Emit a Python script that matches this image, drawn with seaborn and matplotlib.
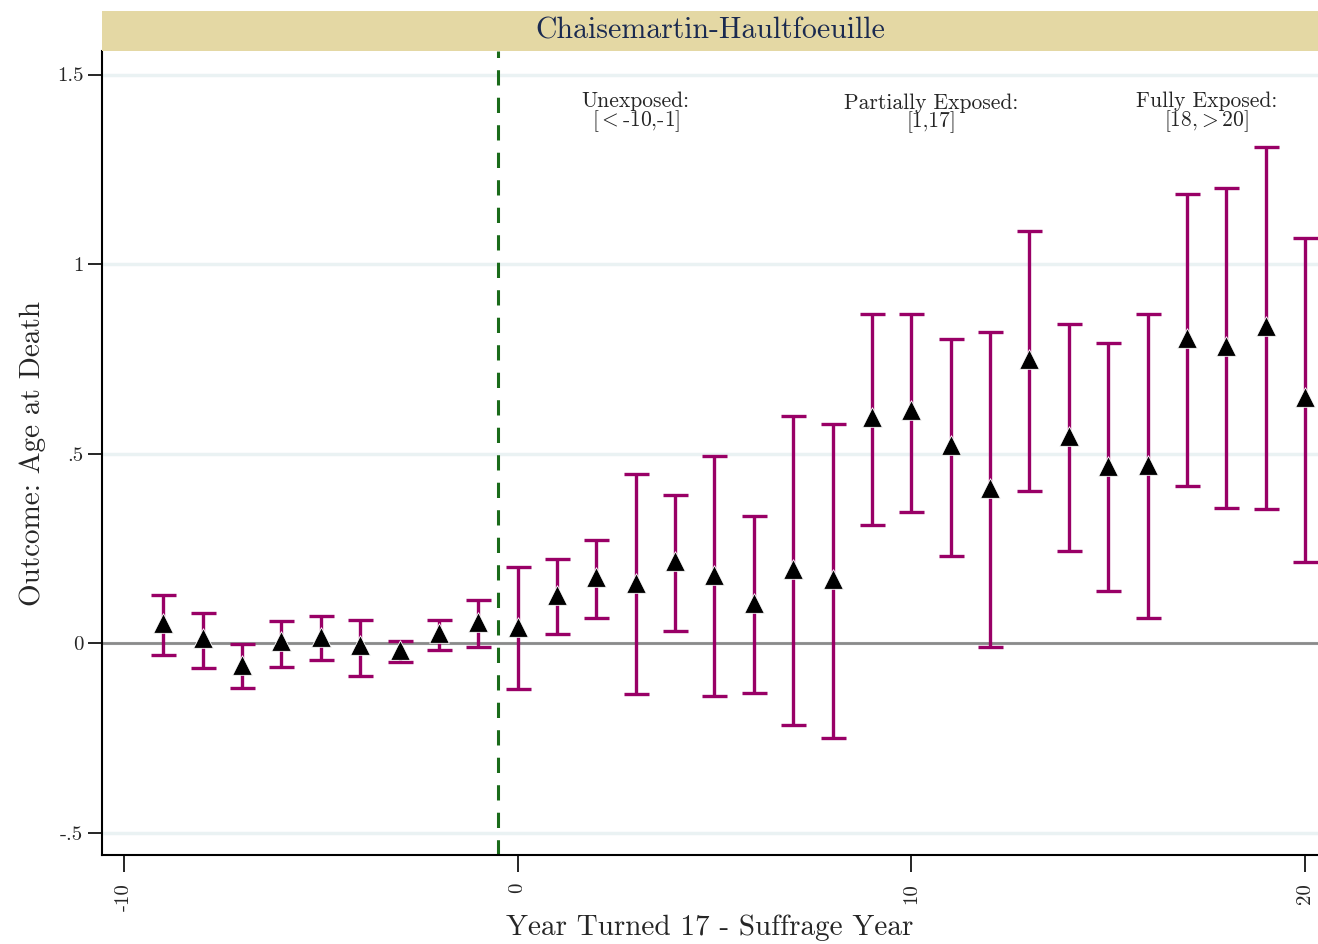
import matplotlib
matplotlib.use("Agg")
import matplotlib.pyplot as plt
import seaborn as sns
import pandas as pd
from matplotlib.patches import Rectangle

years = [-9, -8, -7, -6, -5, -4, -3, -2, -1, 0, 1, 2, 3, 4, 5, 6, 7, 8, 9, 10,
         11, 12, 13, 14, 15, 16, 17, 18, 19, 20]
estimate = [0.053, 0.013, -0.058, 0.005, 0.016, -0.005, -0.018, 0.026, 0.055, 0.042,
            0.127, 0.174, 0.158, 0.216, 0.179, 0.106, 0.195, 0.169, 0.596, 0.615,
            0.522, 0.409, 0.749, 0.546, 0.467, 0.470, 0.805, 0.784, 0.836, 0.649]
upper = [0.127, 0.079, -0.003, 0.058, 0.071, 0.061, 0.005, 0.061, 0.113, 0.200,
         0.222, 0.272, 0.446, 0.390, 0.493, 0.335, 0.599, 0.578, 0.868, 0.868,
         0.802, 0.821, 1.087, 0.842, 0.792, 0.868, 1.185, 1.200, 1.309, 1.069]
lower = [-0.032, -0.066, -0.119, -0.063, -0.045, -0.087, -0.050, -0.018, -0.011, -0.121,
         0.024, 0.066, -0.135, 0.032, -0.140, -0.132, -0.216, -0.251, 0.311, 0.346,
         0.230, -0.011, 0.401, 0.243, 0.137, 0.066, 0.414, 0.356, 0.354, 0.214]
xticks = [-10, 0, 10, 20]
yticks = [-0.5, 0, 0.5, 1, 1.5]
ytick_labels = ["-.5", "0", ".5", "1", "1.5"]
groups = [("Unexposed:\n[${<}$-10,-1]", 3.0), ("Partially Exposed:\n[1,17]", 10.5),
          ("Fully Exposed:\n[18,${>}$20]", 17.5)]

df = pd.DataFrame({"year": years, "est": estimate, "lo": lower, "hi": upper})

sns.set_style("white")
plt.rcParams["font.family"] = ["cmr10", "DejaVu Serif"]
plt.rcParams["mathtext.fontset"] = "cm"
plt.rcParams["axes.unicode_minus"] = False
plt.rcParams["axes.formatter.use_mathtext"] = True

fig = plt.figure(figsize=(13.18, 9.44), dpi=100)
ax = fig.add_axes([102/1318, 89/944, 1 - 102/1318, (855-51)/944])

for y in yticks:
    ax.axhline(y, color="#EAF2F3", lw=2.5, zorder=0)
ax.axhline(0, color="#8a8a8a", lw=2, zorder=1)
ax.axvline(-0.5, color="#1a6b1a", lw=2.2, ls=(0, (5, 4)), zorder=1)

err_color = "#990066"
ax.errorbar(df["year"], df["est"],
            yerr=[df["est"] - df["lo"], df["hi"] - df["est"]],
            fmt="none", ecolor=err_color, elinewidth=2.4, capsize=9, capthick=2.4, zorder=2)
sns.scatterplot(data=df, x="year", y="est", ax=ax, marker="^", s=200, color="black",
                edgecolor="white", linewidth=0.6, zorder=3)

for txt, xpos in groups:
    ax.text(xpos, 1.398, txt, ha="center", va="center", fontsize=15.5, linespacing=0.85)

ax.set_xlim(-10.558, 20.33)
ax.set_ylim(-0.559, 1.562)
ax.set_xticks(xticks)
ax.set_xticklabels([str(t) for t in xticks], rotation=90, fontsize=15)
ax.set_yticks(yticks)
ax.set_yticklabels(ytick_labels, fontsize=15)
ax.tick_params(axis="both", direction="out", length=10, width=1.2, color="black", left=True, bottom=True)
ax.tick_params(axis="x", length=12, pad=8)
for s in ["top", "right"]:
    ax.spines[s].set_visible(False)
for s in ["left", "bottom"]:
    ax.spines[s].set_color("black")
    ax.spines[s].set_linewidth(1.5)
ax.set_xlabel("Year Turned 17 - Suffrage Year", fontsize=21, labelpad=3)
ax.set_ylabel("Outcome: Age at Death", fontsize=21, labelpad=8)

fig.patches.append(Rectangle((102/1318, (944-51)/944), 1 - 102/1318, 40/944,
                             transform=fig.transFigure, facecolor="#E4D8A4",
                             edgecolor="none", zorder=0))
fig.text((102 + 1318) / 2 / 1318, (944 - 31) / 944, "Chaisemartin-Haultfoeuille",
         ha="center", va="center", fontsize=21.5, color="#1a2a50")

fig.savefig("out.png", dpi=100)
